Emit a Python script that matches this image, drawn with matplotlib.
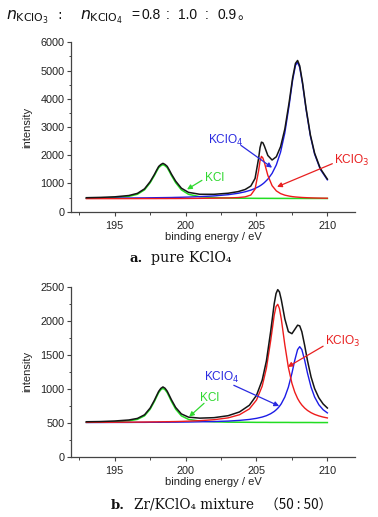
import matplotlib
matplotlib.use("Agg")
import matplotlib.pyplot as plt
from matplotlib.ticker import MultipleLocator

# ---------------- data: panel a (pure KClO4) ----------------
x_a = [193, 194, 195, 196, 196.6, 197.1, 197.5, 197.8, 197.95, 198.1, 198.25, 198.4, 198.55,
       198.7, 198.85, 199.0, 199.3, 199.7, 200.2, 201, 202, 203, 203.7, 204.2, 204.6, 204.9,
       205.15, 205.25, 205.35, 205.45, 205.55, 205.8, 206.1, 206.4, 206.7, 207.0, 207.3,
       207.55, 207.75, 207.9, 208.05, 208.25, 208.5, 208.8, 209.1, 209.5, 210]
kcl_a = [478, 486, 503, 544, 617, 774, 1027, 1282, 1426, 1559, 1626, 1668, 1626, 1559, 1426,
         1282, 1027, 774, 617, 531, 499, 484, 478, 476, 475, 474, 473, 473, 473, 473, 473,
         472, 472, 471, 471, 471, 470, 470, 470, 470, 470, 470, 469, 469, 469, 469, 468]
kclo3_a = [462, 463, 463, 464, 464, 465, 465, 465, 465, 466, 466, 466, 466, 466, 467, 467,
           467, 468, 470, 473, 478, 487, 500, 525, 590, 800, 1450, 1800, 1960, 1903, 1753,
           1288, 922, 737, 641, 586, 553, 533, 522, 516, 510, 503, 497, 491, 486, 481, 477]
kclo4_a = [476, 478, 481, 485, 488, 490, 493, 495, 496, 497, 498, 499, 500, 501, 502, 503,
           507, 511, 518, 533, 559, 602, 652, 705, 764, 824, 887, 917, 950, 987, 1028, 1152,
           1357, 1658, 2111, 2792, 3756, 4658, 5181, 5291, 5106, 4522, 3614, 2685, 2039,
           1503, 1129]
total_a = [496, 507, 527, 573, 649, 809, 1065, 1322, 1467, 1602, 1670, 1713, 1672, 1606, 1475,
           1332, 1081, 833, 685, 617, 616, 654, 711, 786, 909, 1178, 1890, 2270, 2463, 2443,
           2334, 1992, 1831, 1946, 2303, 2929, 3859, 4741, 5253, 5357, 5166, 4575, 3660, 2725,
           2074, 1533, 1154]

# ---------------- data: panel b (Zr/KClO4 mixture 50:50) ----------------
x_b = [193, 194, 195, 196, 196.6, 197.1, 197.5, 197.8, 197.95, 198.1, 198.25, 198.4, 198.55,
       198.7, 198.85, 199.0, 199.3, 199.7, 200.2, 201, 202, 203, 203.8, 204.5, 205, 205.4,
       205.7, 206.0, 206.25, 206.38, 206.5, 206.62, 206.75, 207.0, 207.25, 207.5, 207.7,
       207.9, 208.05, 208.2, 208.4, 208.6, 208.85, 209.1, 209.4, 209.7, 210]
kcl_b = [506, 508, 514, 528, 549, 601, 699, 813, 879, 942, 985, 1005, 985, 942, 879, 813, 699,
         601, 549, 524, 513, 508, 507, 506, 505, 505, 505, 504, 504, 504, 504, 504, 504, 504,
         504, 503, 503, 503, 503, 503, 503, 503, 503, 502, 502, 502, 502]
kclo3_b = [505, 506, 507, 508, 509, 510, 511, 512, 512, 513, 513, 514, 514, 515, 515, 516,
           517, 519, 523, 530, 544, 571, 617, 703, 833, 1036, 1301, 1705, 2080, 2208, 2241,
           2178, 2026, 1644, 1312, 1079, 950, 856, 803, 760, 715, 680, 647, 622, 600, 583, 570]
kclo4_b = [503, 503, 504, 504, 505, 505, 506, 506, 506, 506, 506, 507, 507, 507, 507, 508,
           508, 509, 510, 513, 517, 524, 534, 548, 564, 583, 603, 632, 665, 688, 712, 741,
           779, 878, 1023, 1227, 1418, 1575, 1618, 1575, 1418, 1227, 1023, 878, 764, 691, 644]
total_b = [514, 517, 525, 540, 563, 616, 716, 831, 897, 961, 1004, 1026, 1006, 964, 901, 837,
           724, 629, 582, 567, 574, 603, 658, 757, 902, 1124, 1409, 1841, 2249, 2400, 2457,
           2423, 2309, 2026, 1839, 1809, 1871, 1934, 1924, 1838, 1636, 1410, 1173, 1002, 866,
           776, 716]

x_ticks = [195, 200, 205, 210]
y_ticks_a = [0, 1000, 2000, 3000, 4000, 5000, 6000]
y_ticks_b = [0, 500, 1000, 1500, 2000, 2500]

# labels + arrows: (text, colour, text position, arrow tail, arrow head) in data coords
ann_a = [("KClO$_4$", "#2a2ae0", (201.6, 2530), (203.9, 2350), (206.1, 1560)),
         ("KClO$_3$", "#e82020", (210.5, 1830), (210.35, 1700), (206.45, 880)),
         ("KCl", "#30d830", (201.35, 1180), (201.15, 1110), (200.1, 790))]
ann_b = [("KClO$_3$", "#e82020", (209.85, 1700), (209.7, 1625), (207.2, 1320)),
         ("KClO$_4$", "#2a2ae0", (201.3, 1170), (203.4, 1050), (206.6, 745)),
         ("KCl", "#30d830", (201.05, 860), (201.3, 785), (200.25, 588))]

# ratio line at the top
ratio_tokens = ["=", "0.8", ":", "1.0", ":", "0.9"]
ratio_px = [131, 141, 166, 178, 205, 217]

C_BLACK = "#151515"
C_RED = "#ee1c1c"
C_BLUE = "#1c1ce6"
C_GREEN = "#22dd22"

plt.rcParams["font.family"] = ["Liberation Sans", "DejaVu Sans"]

W, H = 378, 517
fig = plt.figure(figsize=(W / 100, H / 100), dpi=100)
fig.patch.set_facecolor("white")


def px_axes(left, top, right, bottom):
    return fig.add_axes([left / W, 1 - bottom / H, (right - left) / W, (bottom - top) / H])


ax_a = px_axes(70.8, 42.3, 355, 211.7)
ax_b = px_axes(70.8, 286.7, 355, 456.7)


def draw(ax, x, kcl, clo3, clo4, tot, yt, ymax, ymin_step, anns):
    ax.plot(x, kcl, color=C_GREEN, lw=1.1, zorder=2)
    ax.plot(x, clo4, color=C_BLUE, lw=1.0, zorder=3)
    ax.plot(x, clo3, color=C_RED, lw=1.0, zorder=4)
    ax.plot(x, tot, color=C_BLACK, lw=1.1, zorder=5)
    ax.set_xlim(191.9, 211.95)
    ax.set_ylim(0, ymax)
    ax.set_xticks(x_ticks)
    ax.set_yticks(yt)
    ax.xaxis.set_minor_locator(MultipleLocator(2.5))
    ax.yaxis.set_minor_locator(MultipleLocator(ymin_step))
    for s in ("top", "right"):
        ax.spines[s].set_visible(False)
    for s in ("left", "bottom"):
        ax.spines[s].set_color("#444444")
        ax.spines[s].set_linewidth(0.9)
    ax.tick_params(which="major", direction="out", length=3.2, width=0.8, color="#444444",
                   labelsize=7.8, labelcolor="#222222", pad=1.5)
    ax.tick_params(axis="x", which="major", pad=3.8)
    ax.tick_params(which="minor", direction="out", length=1.8, width=0.7, color="#444444")
    ax.set_xlabel("binding energy / eV", fontsize=8, color="#222222", labelpad=0.3)
    ax.set_ylabel("intensity", fontsize=8, color="#222222", labelpad=5.5)
    for label, col, tpos, a0, a1 in anns:
        ax.annotate("", xy=a1, xytext=a0,
                    arrowprops=dict(arrowstyle="-|>", color=col, lw=0.9,
                                    mutation_scale=7, shrinkA=0, shrinkB=0),
                    annotation_clip=False, zorder=6)
        ax.text(tpos[0], tpos[1], label, color=col, fontsize=8.6, ha="left", va="center",
                clip_on=False, zorder=6)


draw(ax_a, x_a, kcl_a, kclo3_a, kclo4_a, total_a, y_ticks_a, 6000, 500, ann_a)
draw(ax_b, x_b, kcl_b, kclo3_b, kclo4_b, total_b, y_ticks_b, 2500, 250, ann_b)

# ---------------- top line ----------------
yb = 1 - 19 / H
fig.text(6 / W, yb, r"$n_{\mathrm{KClO}_3}$", fontsize=11.3, va="baseline", color="#111111")
fig.text(57 / W, yb, ":", fontsize=10, va="baseline", color="#111111", family="DejaVu Sans")
fig.text(80 / W, yb, r"$n_{\mathrm{KClO}_4}$", fontsize=11.3, va="baseline", color="#111111")
for tok, px in zip(ratio_tokens, ratio_px):
    fig.text(px / W, yb, tok, fontsize=10, va="baseline", color="#111111",
             family="Liberation Sans")
fig.text(237 / W, yb, "。", fontsize=10, va="baseline", color="#111111",
         family=["Noto Sans CJK SC", "DejaVu Sans"])

# ---------------- captions ----------------
serif = ["DejaVu Serif", "Noto Sans CJK SC"]
fig.text(129 / W, 1 - 262 / H, "a.", fontsize=9.5, weight="bold", family=serif,
         va="baseline", color="#111111")
fig.text(151 / W, 1 - 262 / H, "pure KClO₄", fontsize=10.2, family=serif,
         va="baseline", color="#111111")
fig.text(111 / W, 1 - 509 / H, "b.", fontsize=9.5, weight="bold", family=serif,
         va="baseline", color="#111111")
fig.text(134 / W, 1 - 509 / H, "Zr/KClO₄ mixture", fontsize=9.8, family=serif,
         va="baseline", color="#111111")
fig.text(265 / W, 1 - 509 / H, "（50 : 50）", fontsize=9.8,
         family=["Noto Sans CJK SC", "DejaVu Serif"], va="baseline", color="#111111")

fig.savefig("out.png", dpi=100, facecolor="white")
